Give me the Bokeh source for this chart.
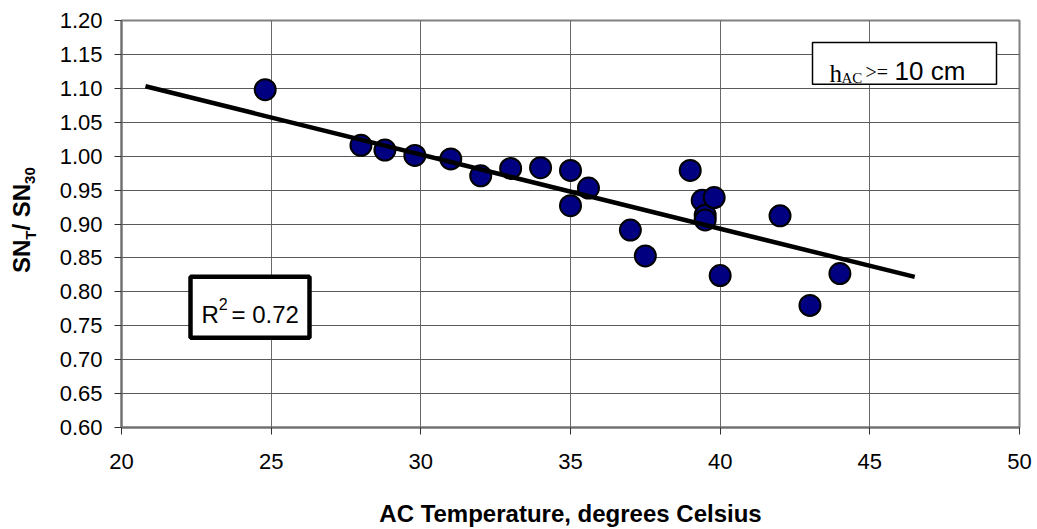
import numpy as np
from bokeh.plotting import figure
from bokeh.layouts import row
from bokeh.core.properties import value
from bokeh.models import (Range1d, FixedTicker, NumeralTickFormatter, Label,
                          BoxAnnotation, ColumnDataSource)
from bokeh.embed import file_html
from bokeh.resources import INLINE

# ---------------- data ----------------
temperature = [24.8, 28.0, 28.8, 29.8, 31.0, 32.0, 33.0, 34.0, 35.0, 35.0, 35.6,
               37.0, 37.5, 39.0, 39.4, 39.5, 39.5, 39.8, 40.0, 42.0, 43.0, 44.0]
sn_ratio = [1.098, 1.016, 1.009, 1.001, 0.996, 0.971, 0.982, 0.983, 0.979, 0.927, 0.953,
            0.891, 0.853, 0.979, 0.935, 0.913, 0.906, 0.939, 0.824, 0.912, 0.780, 0.827]
trend_x = [20.8, 46.5]               # Excel trendline as drawn
trend_y = [1.103, 0.822]
r_squared_text = "0.72"
x_ticks = [20, 25, 30, 35, 40, 45, 50]
y_ticks = [0.60, 0.65, 0.70, 0.75, 0.80, 0.85, 0.90, 0.95, 1.00, 1.05, 1.10, 1.15, 1.20]
x_title = "AC Temperature, degrees Celsius"
y_title_parts = ["SN", "T", "/ SN", "30"]   # main, subscript, main, subscript
note_parts = ["h", "AC", ">=", "10 cm"]

# ---------------- layout ----------------
W, H = 1037, 529
LW = 44                                # width of the strip holding the y title
FL, FR, FT, FB = 121, 1019, 20, 428    # frame edges in page pixels
XMIN, XMAX = x_ticks[0], x_ticks[-1]
YMIN, YMAX = y_ticks[0], y_ticks[-1]

def px2x(px):
    return XMIN + (px - FL) * (XMAX - XMIN) / (FR - FL)

def px2y(py):
    return YMIN + (FB - py) * (YMAX - YMIN) / (FB - FT)

SANS = "Liberation Sans"
SERIF = "Liberation Serif"

# ---- narrow strip for the rotated y title (pixel coordinates, y up) ----
# its frame shares the main chart's top/bottom borders (row aligns frames)
strip = figure(width=LW, height=H, output_backend="svg", toolbar_location=None,
               x_range=Range1d(0, LW), y_range=Range1d(H - FB, H - FT),
               x_axis_type=None, y_axis_type=None,
               min_border_left=0, min_border_right=0,
               min_border_top=FT, min_border_bottom=H - FB)
strip.outline_line_color = None
strip.xgrid.visible = False
strip.ygrid.visible = False
strip.background_fill_color = "white"
strip.border_fill_color = "white"

def vtext(cx, cy, text, size):
    # centred placement (robust for rotated text)
    strip.text(x=[cx], y=[H - cy], text=[text], angle=np.pi / 2,
               text_font=value(SANS), text_font_size=f"{size}px",
               text_font_style="bold", text_color="black",
               text_align="center", text_baseline="middle")

big, small = 24, 15
base_main, base_sub = 29.0, 35.0
mid = 0.3465
w_sn = (0.667 + 0.722) * big
w_t = 0.611 * small
w_slash_sn = (0.278 + 0.278 + 0.667 + 0.722) * big
w_30 = 2 * 0.556 * small
yy = 273.0
vtext(base_main - mid * big, yy - w_sn / 2, y_title_parts[0], big)
yy -= w_sn
vtext(base_sub - mid * small, yy - w_t / 2, y_title_parts[1], small)
yy -= w_t
vtext(base_main - mid * big, yy - w_slash_sn / 2, y_title_parts[2], big)
yy -= w_slash_sn
vtext(base_sub - mid * small, yy - w_30 / 2, y_title_parts[3], small)

# ---- main chart ----
p = figure(width=W - LW, height=H, output_backend="svg", toolbar_location=None,
           x_range=Range1d(XMIN, XMAX), y_range=Range1d(YMIN, YMAX),
           min_border_left=FL - LW, min_border_right=W - FR,
           min_border_top=FT, min_border_bottom=H - FB)
p.background_fill_color = "white"
p.border_fill_color = "white"
p.outline_line_color = "#808080"
p.outline_line_width = 2

p.xgrid.ticker = FixedTicker(ticks=x_ticks)
p.ygrid.ticker = FixedTicker(ticks=y_ticks)
p.xgrid.grid_line_color = "#6a6a6a"
p.ygrid.grid_line_color = "#5a5a5a"

for ax in (p.xaxis[0], p.yaxis[0]):
    ax.axis_line_color = "#707070"
    ax.axis_line_width = 2
    ax.major_tick_line_color = "#303030"
    ax.major_tick_line_width = 1
    ax.major_tick_in = 0
    ax.major_tick_out = 7
    ax.minor_tick_line_color = None
    ax.major_label_text_font = SANS
    ax.major_label_text_font_size = "22px"
    ax.major_label_text_color = "black"

p.xaxis.ticker = FixedTicker(ticks=x_ticks)
p.yaxis.ticker = FixedTicker(ticks=y_ticks)
p.xaxis.formatter = NumeralTickFormatter(format="0")
p.yaxis.formatter = NumeralTickFormatter(format="0.00")
p.xaxis.major_label_standoff = 19
p.yaxis.major_label_standoff = 12

p.xaxis.axis_label = x_title
p.xaxis.axis_label_text_font = SANS
p.xaxis.axis_label_text_font_size = "24px"
p.xaxis.axis_label_text_font_style = "bold"
p.xaxis.axis_label_text_color = "black"
p.xaxis.axis_label_standoff = 28

src = ColumnDataSource(dict(x=temperature, y=sn_ratio))
p.scatter("x", "y", source=src, size=21, fill_color="#000080",
          line_color="black", line_width=2)
p.line(trend_x, trend_y, line_color="black", line_width=4.5)

def labp(px, py, text, size, font=SANS, style="normal"):
    p.add_layout(Label(x=px2x(px), y=px2y(py), text=text, text_font=font,
                       text_font_size=f"{size}px", text_font_style=style,
                       text_color="black", text_align="left",
                       text_baseline="alphabetic"))

# R^2 box
p.add_layout(BoxAnnotation(left=px2x(190), right=px2x(309), top=px2y(277), bottom=px2y(338),
                           fill_color="white", fill_alpha=1.0,
                           line_color="black", line_alpha=1.0, line_width=4.5))
labp(201, 315, "R", 24)
labp(201 + 0.722 * 24, 304, "2", 16)
labp(231, 315, "= " + r_squared_text, 24)

# h_AC box
p.add_layout(BoxAnnotation(left=px2x(812), right=px2x(996), top=px2y(42), bottom=px2y(84),
                           fill_color="white", fill_alpha=1.0,
                           line_color="black", line_alpha=1.0, line_width=1.5))
labp(829, 73, note_parts[0], 25, font=SERIF)
labp(841, 78, note_parts[1], 15, font=SERIF)
labp(865, 72, note_parts[2], 20, font=SERIF)
labp(894, 71, note_parts[3], 26, font=SANS)

layout = row(strip, p, spacing=0)
open("out.html", "w").write(file_html(layout, INLINE))
